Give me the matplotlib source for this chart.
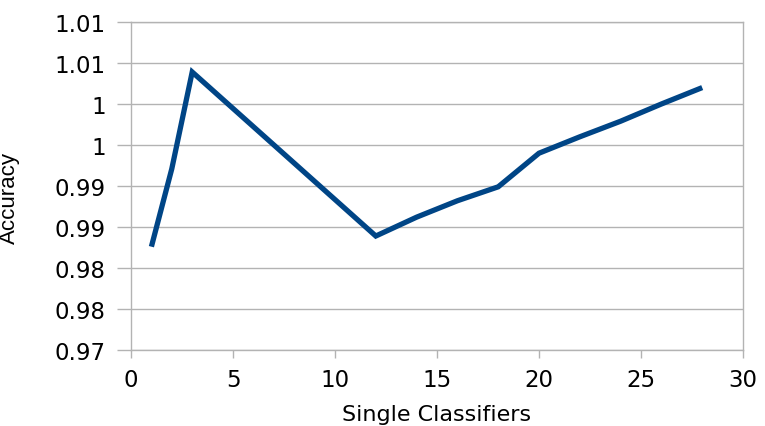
import numpy as np
import matplotlib
matplotlib.use("Agg")
import matplotlib.pyplot as plt

plt.rcParams['font.family'] = ['DejaVu Sans']

# data
classifiers = [1, 2, 3, 12, 14, 16, 18, 20, 22, 24, 26, 28]
accuracy = [0.9826, 0.9921, 1.0039, 0.9839, 0.9862, 0.9882, 0.9899,
            0.9940, 0.9960, 0.9979, 1.0000, 1.0020]

xticks = [0, 5, 10, 15, 20, 25, 30]
yticks = [0.970, 0.975, 0.980, 0.985, 0.990, 0.995, 1.000, 1.005, 1.010]
ytick_labels = ["0.97", "0.98", "0.98", "0.99", "0.99", "1", "1", "1.01", "1.01"]

fig = plt.figure(figsize=(7.65, 4.27), dpi=100)
ax = fig.add_axes([131 / 765, 76 / 427, 612 / 765, 328 / 427])

ax.plot(classifiers, accuracy, color="#004586", linewidth=3.8,
        solid_capstyle="butt", solid_joinstyle="miter", zorder=3)

ax.set_xlim(0, 30)
ax.set_ylim(0.97, 1.01)
ax.set_xticks(xticks)
ax.set_xticklabels([str(t) for t in xticks])
ax.set_yticks(yticks)
ax.set_yticklabels(ytick_labels)

ax.grid(axis="y", color="#b3b3b3", linewidth=1)
ax.set_axisbelow(True)
for s in ax.spines.values():
    s.set_color("#b3b3b3")
    s.set_linewidth(1)
ax.tick_params(axis="both", colors="#b3b3b3", labelcolor="black", labelsize=16.5)
ax.tick_params(axis="y", length=10, width=1, pad=8)
ax.tick_params(axis="x", length=6, width=1, pad=7)

ax.set_xlabel("Single Classifiers", fontsize=16)
ax.xaxis.set_label_coords(437 / 765, 2 / 427, transform=fig.transFigure)
ax.xaxis.label.set_verticalalignment("bottom")
ax.set_ylabel("Accuracy", fontsize=16,
              family=["Liberation Sans Narrow", "Liberation Sans", "DejaVu Sans"])
ax.yaxis.set_label_coords(20 / 765, 1 - 198 / 427, transform=fig.transFigure)

fig.savefig("out.png", dpi=100)
